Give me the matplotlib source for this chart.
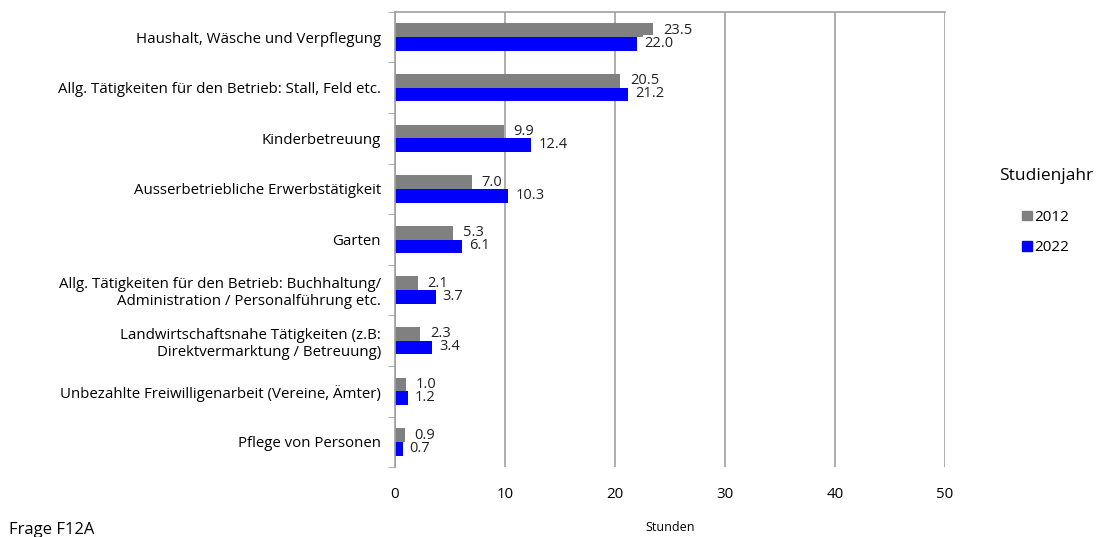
import numpy as np
import matplotlib.pyplot as plt
from matplotlib.patches import Patch

plt.rcParams['font.family'] = ['Open Sans', 'DejaVu Sans']

categories = [
    "Haushalt, Wäsche und Verpflegung",
    "Allg. Tätigkeiten für den Betrieb: Stall, Feld etc.",
    "Kinderbetreuung",
    "Ausserbetriebliche Erwerbstätigkeit",
    "Garten",
    "Allg. Tätigkeiten für den Betrieb: Buchhaltung/\nAdministration / Personalführung etc.",
    "Landwirtschaftsnahe Tätigkeiten (z.B:\nDirektvermarktung / Betreuung)",
    "Unbezahlte Freiwilligenarbeit (Vereine, Ämter)",
    "Pflege von Personen",
]
v2012 = [23.5, 20.5, 9.9, 7.0, 5.3, 2.1, 2.3, 1.0, 0.9]
v2022 = [22.0, 21.2, 12.4, 10.3, 6.1, 3.7, 3.4, 1.2, 0.7]
xticks = [0, 10, 20, 30, 40, 50]

c12 = '#808080'
c22 = '#0000ff'

fig = plt.figure(figsize=(10.97, 5.37), dpi=100)
ax = fig.add_axes([0.360, 0.130, 0.5015, 0.848])

y = np.arange(len(categories))
h = 0.27
ax.barh(y - h / 2, v2012, height=h, color=c12, zorder=2)
ax.barh(y + h / 2, v2022, height=h, color=c22, zorder=2)

# value labels, 2022 label drawn on a white box over the 2012 one
for yi, a, b in zip(y, v2012, v2022):
    ax.annotate(f"{a:.1f}", (a, yi - h / 2), xytext=(7, 0), textcoords='offset points',
                va='center', ha='left', fontsize=10.5, color='#222222', zorder=3)
    ax.annotate(f"{b:.1f}", (b, yi + h / 2), xytext=(5, 0.5), textcoords='offset points',
                va='center', ha='left', fontsize=10.5, color='#222222', zorder=4,
                bbox=dict(boxstyle='square,pad=0.05', fc='white', ec='none'))

ax.set_xlim(0, 50)
ax.set_ylim(8.45, -0.5)
ax.set_xticks(xticks)
ax.set_xticklabels([str(t) for t in xticks], fontsize=10.8)
ax.tick_params(axis='x', length=0, pad=14)
ax.set_yticks(y)
ax.set_yticklabels(categories, fontsize=10.8)
ax.tick_params(axis='y', length=0, pad=10)
ax.set_yticks(np.arange(-0.5, len(categories), 1), minor=True)
ax.tick_params(axis='y', which='minor', length=5, color='#a0a0a0')
ax.grid(axis='x', color='#a0a0a0', linewidth=1.2, zorder=0)
for s in ['bottom', 'right']:
    ax.spines[s].set_visible(False)
for s in ['left', 'top']:
    ax.spines[s].set_color('#a0a0a0')
    ax.spines[s].set_linewidth(1.2)

ax.set_xlabel("Stunden", fontsize=9, labelpad=14)

handles = [Patch(color=c12, label='2012'), Patch(color=c22, label='2022')]
leg = fig.legend(handles=handles, title='Studienjahr', loc='upper left',
                 bbox_to_anchor=(0.898, 0.693), frameon=False, fontsize=11,
                 title_fontsize=12.5, handlelength=0.6, handleheight=0.6,
                 handletextpad=0.2, labelspacing=1.0)
leg.get_title().set_position((0, 11))

fig.text(0.008, -0.002, "Frage F12A", fontsize=12, ha='left', va='bottom')

fig.savefig('out.png', dpi=100)
